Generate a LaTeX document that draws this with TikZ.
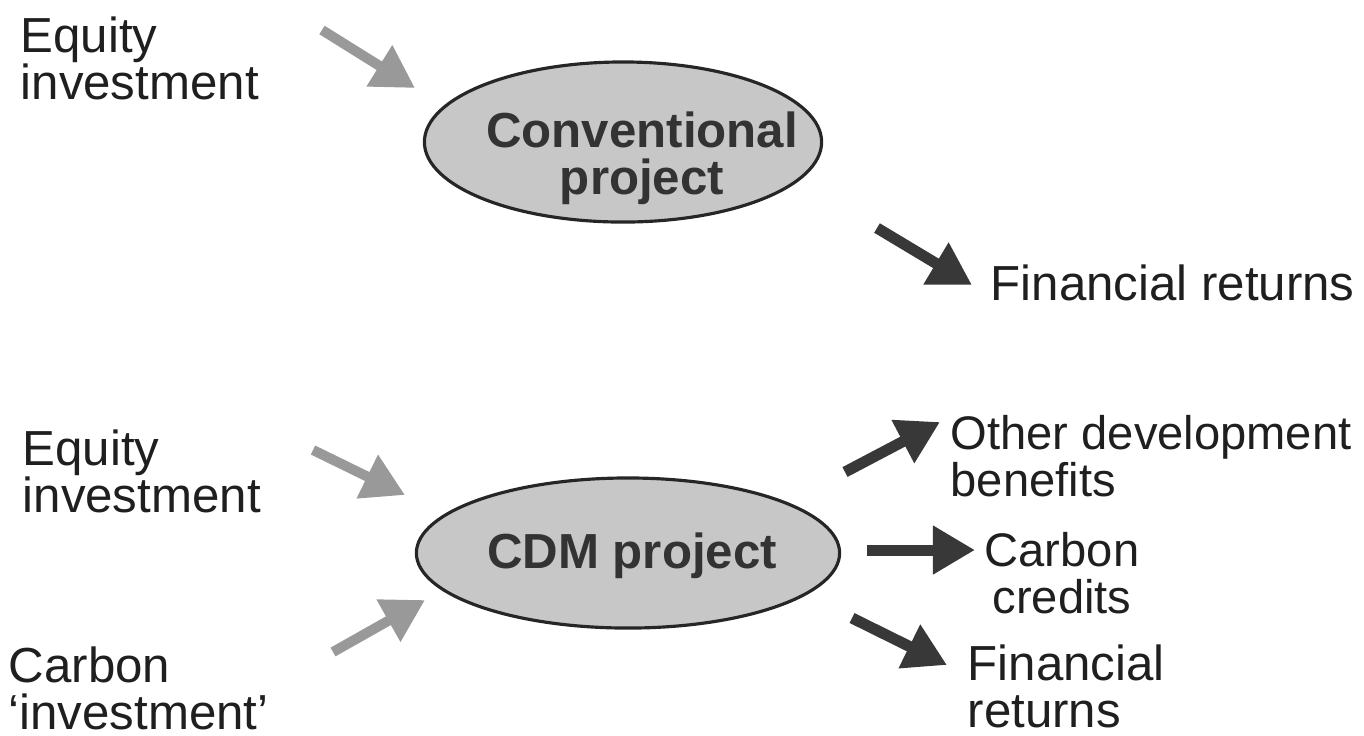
\documentclass[tikz,border=0pt]{standalone}
\usepackage{fontspec}
\setmainfont{Liberation Sans}
\usetikzlibrary{
  positioning,
  arrows.meta,
  shapes.geometric
}

\begin{document}
\begin{tikzpicture}[
    x=0.01cm, y=-0.01cm, >={Triangle[length=0.42cm,width=0.46cm]},
    font=\fontsize{14}{13.4}\selectfont,
    term/.style={
      anchor=west,
      align=left,
      inner sep=0pt,
      text=black!88
    },
    project/.style={
      ellipse,
      draw=black!85,
      line width=0.9pt,
      fill=black!22,
      inner sep=0pt
    },
    projtext/.style={
      align=center,
      inner sep=0pt,
      text=black!80,
      font=\fontsize{14}{13.4}\selectfont\bfseries
    },
    inflow/.style={
      ->,
      draw=black!40,
      line width=0.1cm
    },
    outflow/.style={
      ->,
      draw=black!78,
      line width=0.11cm
    }
  ]

  \useasboundingbox (0,0) rectangle (1364,735);

  % Conventional project
  \node[term] (eqA) at (20,58) {Equity\\investment};
  \node[project, minimum width=3.97cm, minimum height=1.6cm] (conv) at (623,142) {};
  \node[projtext] (convtext) at (642,158) {Conventional\\project};
  \node[term] (finA) at (990,283) {Financial returns};

  \coordinate (eqA-s) at (322,30);
  \coordinate (eqA-e) at (415,88);
  \coordinate (finA-s) at (877,228);
  \coordinate (finA-e) at (972,285);
  \draw[inflow] (eqA-s) -- (eqA-e);
  \draw[outflow] (finA-s) -- (finA-e);

  % CDM project
  \node[term] (eqB) at (22,471) {Equity\\investment};
  \node[term] (carb) at (8,688) {Carbon\\‘investment’};
  \node[project, minimum width=4.23cm, minimum height=1.5cm] (cdm) at (628,553) {};
  \node[projtext] (cdmtext) at (632,556) {CDM project};
  \node[term, font=\fontsize{13.4}{13.4}\selectfont] (other) at (950,456) {Other development\\benefits};
  \node[term, anchor=center, align=center, font=\fontsize{13.4}{13.4}\selectfont] (cred) at (1062,573) {Carbon\\credits};
  \node[term] (finB) at (967,686) {Financial\\returns};

  \coordinate (eqB-s) at (313,450);
  \coordinate (eqB-e) at (405,495);
  \coordinate (carb-s) at (333,652);
  \coordinate (carb-e) at (425,600);
  \coordinate (other-s) at (845,472);
  \coordinate (other-e) at (940,422);
  \coordinate (cred-s) at (867,550);
  \coordinate (cred-e) at (975,550);
  \coordinate (finB-s) at (852,618);
  \coordinate (finB-e) at (947,665);
  \draw[inflow] (eqB-s) -- (eqB-e);
  \draw[inflow] (carb-s) -- (carb-e);
  \draw[outflow] (other-s) -- (other-e);
  \draw[outflow] (cred-s) -- (cred-e);
  \draw[outflow] (finB-s) -- (finB-e);

\end{tikzpicture}
\end{document}
